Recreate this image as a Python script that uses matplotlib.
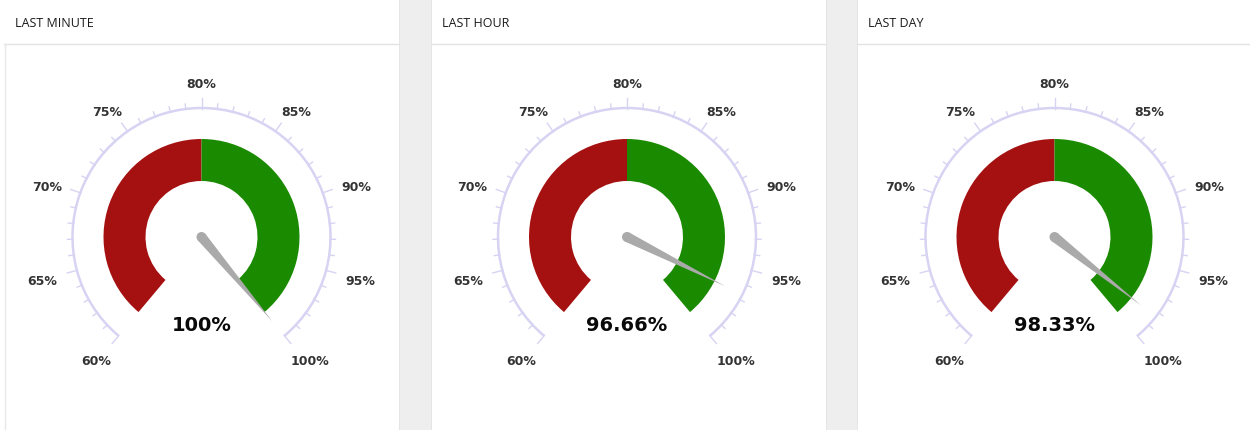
import numpy as np
import matplotlib
matplotlib.use("Agg")
import matplotlib.pyplot as plt
from matplotlib.patches import Wedge, Arc, Circle, Polygon, Rectangle

# Gauge data
titles = ["LAST MINUTE", "LAST HOUR", "LAST DAY"]
values = [100.0, 96.66, 98.33]
value_labels = ["100%", "96.66%", "98.33%"]
scale_min, scale_max = 60, 100
threshold = 80
major_ticks = [60, 65, 70, 75, 80, 85, 90, 95, 100]
major_labels = ["60%", "65%", "70%", "75%", "80%", "85%", "90%", "95%", "100%"]
minor_step = 1

W, H = 1250, 431
fig = plt.figure(figsize=(W / 100, H / 100), dpi=100)
ax = fig.add_axes([0, 0, 1, 1])
ax.set_xlim(0, W)
ax.set_ylim(H, 0)
ax.axis("off")

SPAN = 280.0           # degrees covered by the dial
START = 90 + SPAN / 2  # angle of scale_min, counter-clockwise from +x


def angle_of(v):
    return START - (v - scale_min) / (scale_max - scale_min) * SPAN


def polar(cx, cy, r, ang):
    a = np.radians(ang)
    return cx + r * np.cos(a), cy - r * np.sin(a)


panels = [(4, 399), (431, 826), (857, 1250)]
centers = [201.5, 627.0, 1054.5]
cy = 238.0

# grey gutters between panels
for x0, x1 in [(399, 431), (826, 857)]:
    ax.add_patch(Rectangle((x0, 0), x1 - x0, H, facecolor="#eeeeee",
                           edgecolor="#e2e2e2", lw=0.6, zorder=0))
# panel header rule and left border
for (px0, px1) in panels:
    ax.plot([px0, px1], [44.5, 44.5], color="#e3e3e3", lw=1.0, zorder=1)
ax.plot([4.5, 4.5], [44.5, H], color="#e8e8e8", lw=1.0, zorder=1)

red = "#a51111"
green = "#1a8a00"
arc_col = "#d7d3f2"

R_BAND_OUT, R_BAND_IN = 98, 56
R_ARC = 129
LABEL_RX, LABEL_RY, LABEL_DY = 164.5, 157.0, 3.0
NEEDLE_LEN = 110

for i, (title, val, vlabel) in enumerate(zip(titles, values, value_labels)):
    cx = centers[i]
    px0 = panels[i][0]
    ax.text(px0 + 11, 23.5, title, fontsize=9, family="Open Sans",
            color="#1a1a1a", ha="left", va="center")

    # coloured bands (y axis is inverted, so the wedge angles are mirrored)
    a_min, a_thr, a_max = angle_of(scale_min), angle_of(threshold), angle_of(scale_max)
    ax.add_patch(Wedge((cx, cy), R_BAND_OUT, -a_min, -a_thr,
                       width=R_BAND_OUT - R_BAND_IN, facecolor=red,
                       edgecolor="none", zorder=2))
    ax.add_patch(Wedge((cx, cy), R_BAND_OUT, -a_thr, -a_max,
                       width=R_BAND_OUT - R_BAND_IN, facecolor=green,
                       edgecolor="none", zorder=2))

    # scale arc
    ax.add_patch(Arc((cx, cy), 2 * R_ARC, 2 * R_ARC, theta1=-a_min, theta2=-a_max,
                     color=arc_col, lw=1.8, zorder=2))

    # ticks
    for v in np.arange(scale_min, scale_max + 0.001, minor_step):
        major = any(abs(v - m) < 1e-6 for m in major_ticks)
        ln = 10 if major else 5
        ang = angle_of(v)
        x0, y0 = polar(cx, cy, R_ARC - 0.5, ang)
        x1, y1 = polar(cx, cy, R_ARC + ln, ang)
        ax.plot([x0, x1], [y0, y1], color=arc_col, lw=1.0, zorder=2)

    # tick labels on an ellipse around the dial
    for v, lab in zip(major_ticks, major_labels):
        a = np.radians(angle_of(v))
        rx = LABEL_RX + 4.4 * (len(lab) - 3)
        lx = cx + rx * np.cos(a)
        ly = cy + LABEL_DY - LABEL_RY * np.sin(a)
        ax.text(lx, ly, lab, fontsize=9, fontweight="bold", color="#333333",
                ha="center", va="center", family="DejaVu Sans")

    # needle
    ang = angle_of(val)
    tx, ty = polar(cx, cy, NEEDLE_LEN, ang)
    a = np.radians(ang)
    base_r = 5.0
    nx, ny = -np.sin(a) * base_r, -np.cos(a) * base_r
    ax.add_patch(Polygon([(cx + nx, cy + ny), (tx, ty), (cx - nx, cy - ny)],
                         closed=True, facecolor="#aaaaaa", edgecolor="none", zorder=4))
    ax.add_patch(Circle((cx, cy), base_r, facecolor="#aaaaaa", edgecolor="none", zorder=4))

    ax.text(cx, cy + 88, vlabel, fontsize=14, fontweight="bold", color="#0a0a0a",
            ha="center", va="center", family="DejaVu Sans")

fig.savefig("out.png", dpi=100, facecolor="white")
